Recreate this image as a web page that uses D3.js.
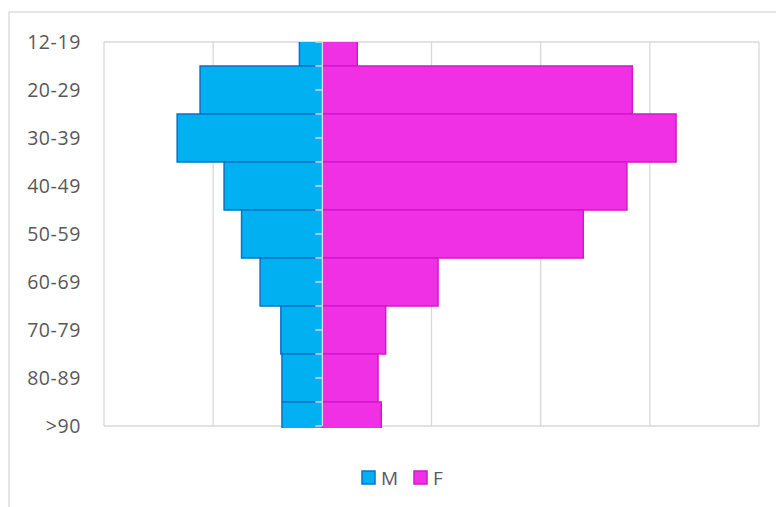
<!DOCTYPE html>
<html>
<head>
<meta charset="utf-8">
<script src="https://cdn.jsdelivr.net/npm/d3@7"></script>
<style>
html,body{margin:0;padding:0;background:#fff;}
svg{display:block;}
</style>
</head>
<body>
<script>
const categories = ["12-19","20-29","30-39","40-49","50-59","60-69","70-79","80-89",">90"];
const maleValues = [21, 112, 133, 90, 74, 57, 38, 37, 37];
const femaleValues = [32, 284, 324, 279, 239, 106, 58, 51, 54];
const gridTicks = [-200, -100, 0, 100, 200, 300, 400];
const seriesNames = ["M", "F"];
const seriesColors = {M: {fill: "#00B0F0", stroke: "#0A72C4"}, F: {fill: "#F030E4", stroke: "#D018C8"}};

const W = 776, H = 507;
const plot = {left: 104, right: 759, top: 42, bottom: 426};
const font = "'Open Sans', sans-serif";

const svg = d3.select("body").append("svg").attr("width", W).attr("height", H);

// chart border
svg.append("rect").attr("x", 9).attr("y", 12).attr("width", W).attr("height", H)
  .attr("fill", "#fff").attr("stroke", "#d9d9d9").attr("stroke-width", 1.3);

const x = d3.scaleLinear().domain([d3.min(gridTicks), d3.max(gridTicks)]).range([plot.left, plot.right]);
const y = d3.scalePoint().domain(categories).range([plot.top, plot.bottom]);
const step = y.step();

// gridlines
svg.append("g").selectAll("line").data(gridTicks).join("line")
  .attr("x1", d => x(d)).attr("x2", d => x(d))
  .attr("y1", plot.top).attr("y2", plot.bottom)
  .attr("stroke", "#d9d9d9").attr("stroke-width", 1.3);
svg.append("line").attr("x1", plot.left).attr("x2", plot.right).attr("y1", plot.top).attr("y2", plot.top)
  .attr("stroke", "#d9d9d9").attr("stroke-width", 1.3);
svg.append("line").attr("x1", plot.left).attr("x2", plot.right).attr("y1", plot.bottom).attr("y2", plot.bottom)
  .attr("stroke", "#d9d9d9").attr("stroke-width", 1.3);

// clip
svg.append("clipPath").attr("id", "clip").append("rect")
  .attr("x", plot.left - 2).attr("y", plot.top).attr("width", plot.right - plot.left + 4).attr("height", plot.bottom - plot.top + 2);

const bars = svg.append("g").attr("clip-path", "url(#clip)");
const rows = categories.map((c, i) => ({c, m: maleValues[i], f: femaleValues[i]}));

bars.selectAll("rect.m").data(rows).join("rect").attr("class", "m")
  .attr("x", d => x(-d.m)).attr("width", d => x(0) - x(-d.m))
  .attr("y", d => y(d.c) - step / 2).attr("height", step)
  .attr("fill", seriesColors.M.fill).attr("stroke", seriesColors.M.stroke).attr("stroke-width", 1.5);

bars.selectAll("rect.f").data(rows).join("rect").attr("class", "f")
  .attr("x", x(0)).attr("width", d => x(d.f) - x(0))
  .attr("y", d => y(d.c) - step / 2).attr("height", step)
  .attr("fill", seriesColors.F.fill).attr("stroke", seriesColors.F.stroke).attr("stroke-width", 1.5);

// center axis with ticks
const axisG = svg.append("g");
axisG.append("line").attr("x1", x(0)).attr("x2", x(0)).attr("y1", plot.top).attr("y2", plot.bottom)
  .attr("stroke", "#d9d9d9").attr("stroke-width", 1.5);
const tickYs = [];
categories.forEach((c, i) => {
  tickYs.push(y(c));
  if (i < categories.length - 1) tickYs.push(y(c) + step / 2);
});
axisG.selectAll("line.t").data(tickYs).join("line").attr("class", "t")
  .attr("x1", x(0) - 7).attr("x2", x(0)).attr("y1", d => d).attr("y2", d => d)
  .attr("stroke", "#d9d9d9").attr("stroke-width", 1.5);

// category labels
svg.append("g").selectAll("text").data(categories).join("text")
  .attr("x", 81).attr("y", d => y(d)).attr("dy", "0.35em")
  .attr("text-anchor", "end").attr("fill", "#595959")
  .style("font-family", font).style("font-size", "19.5px").style("letter-spacing", "0.6px")
  .text(d => d);

// legend
const legendX = [362, 414];
const lg = svg.append("g");
seriesNames.forEach((s, i) => {
  lg.append("rect").attr("x", legendX[i]).attr("y", 471).attr("width", 13).attr("height", 13)
    .attr("fill", seriesColors[s].fill).attr("stroke", seriesColors[s].stroke).attr("stroke-width", 1.5);
  lg.append("text").attr("x", legendX[i] + 19).attr("y", 478).attr("dy", "0.35em")
    .attr("fill", "#595959").style("font-family", font).style("font-size", "19px")
    .text(s);
});
</script>
</body>
</html>
